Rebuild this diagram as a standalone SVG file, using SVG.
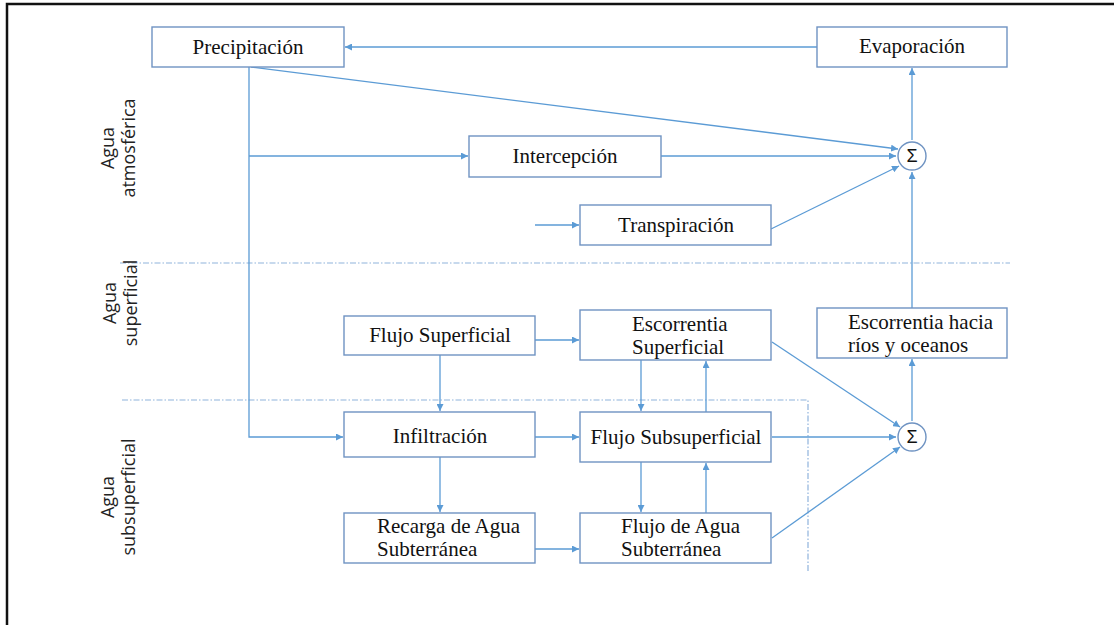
<svg xmlns="http://www.w3.org/2000/svg" width="1114" height="625" viewBox="0 0 1114 625">
<style>
.box{fill:#fff;stroke:#6f93c2;stroke-width:1.4}
.t{font-family:"Liberation Serif","Times New Roman",serif;font-size:21px;fill:#111}
.c{text-anchor:middle}
.lbl{font-family:"Open Sans","Liberation Sans",sans-serif;font-size:18px;fill:#222;text-anchor:middle}
.ln{fill:none;stroke:#5b9bd5;stroke-width:1.3}
.dd{fill:none;stroke:#8fb3dc;stroke-width:1.2;stroke-dasharray:6 2 1.5 2}
.sig{fill:#fff;stroke:#6f93c2;stroke-width:1.4}
.st{font-family:"Liberation Sans",Arial,sans-serif;font-size:18px;fill:#111;text-anchor:middle}
</style>
<defs>
<marker id="a" viewBox="0 0 10 10" refX="10" refY="5" markerWidth="7" markerHeight="7" markerUnits="userSpaceOnUse" orient="auto">
<path d="M0,0 L10,5 L0,10 z" fill="#5b9bd5"/>
</marker>
</defs>
<rect x="0" y="0" width="1114" height="625" fill="#fff"/>
<rect x="7" y="4" width="1130" height="640" fill="none" stroke="#111" stroke-width="2.5"/>

<g id="zones">
<path class="dd" d="M120,263 H1010"/>
<path class="dd" d="M122,400 H808 V573"/>
<text class="lbl" transform="rotate(-90 114 148)" x="114" y="148">Agua</text>
<text class="lbl" transform="rotate(-90 135 148)" x="135" y="148">atmosférica</text>
<text class="lbl" transform="rotate(-90 116 303)" x="116" y="303">Agua</text>
<text class="lbl" transform="rotate(-90 137 303)" x="137" y="303">superficial</text>
<text class="lbl" transform="rotate(-90 114 497)" x="114" y="497">Agua</text>
<text class="lbl" transform="rotate(-90 135 497)" x="135" y="497">subsuperficial</text>
</g>

<g id="connectors">
<path class="ln" d="M817,47 H345" marker-end="url(#a)"/>
<path class="ln" d="M251,67 L898,149" marker-end="url(#a)"/>
<path class="ln" d="M249,67 V437 H343" marker-end="url(#a)"/>
<path class="ln" d="M249,156 H468" marker-end="url(#a)"/>
<path class="ln" d="M661,156 H896" marker-end="url(#a)"/>
<path class="ln" d="M535,225 H579" marker-end="url(#a)"/>
<path class="ln" d="M771,229 L899,166" marker-end="url(#a)"/>
<path class="ln" d="M912,140 V68" marker-end="url(#a)"/>
<path class="ln" d="M912,308 V172" marker-end="url(#a)"/>
<path class="ln" d="M535,340 H579" marker-end="url(#a)"/>
<path class="ln" d="M440,355 V411" marker-end="url(#a)"/>
<path class="ln" d="M641,360 V411" marker-end="url(#a)"/>
<path class="ln" d="M706,412 V361" marker-end="url(#a)"/>
<path class="ln" d="M772,342 L900,427" marker-end="url(#a)"/>
<path class="ln" d="M535,437 H579" marker-end="url(#a)"/>
<path class="ln" d="M772,437 H896" marker-end="url(#a)"/>
<path class="ln" d="M912,421 V359" marker-end="url(#a)"/>
<path class="ln" d="M440,457 V512" marker-end="url(#a)"/>
<path class="ln" d="M535,549 H579" marker-end="url(#a)"/>
<path class="ln" d="M641,462 V512" marker-end="url(#a)"/>
<path class="ln" d="M706,513 V463" marker-end="url(#a)"/>
<path class="ln" d="M772,538 L900,447" marker-end="url(#a)"/>
</g>

<g id="precipitacion"><rect class="box" x="152" y="27" width="192" height="40"/><text class="t c" x="248" y="54">Precipitación</text></g>
<g id="evaporacion"><rect class="box" x="817" y="27" width="190" height="40"/><text class="t c" x="912" y="53">Evaporación</text></g>
<g id="intercepcion"><rect class="box" x="469" y="136" width="192" height="41"/><text class="t c" x="565" y="163">Intercepción</text></g>
<g id="transpiracion"><rect class="box" x="580" y="205" width="191" height="40"/><text class="t c" x="676" y="232">Transpiración</text></g>
<g id="sigma1"><circle class="sig" cx="912" cy="156" r="14"/><text class="st" x="912" y="162">Σ</text></g>
<g id="flujo-superficial"><rect class="box" x="344" y="316" width="191" height="39"/><text class="t c" x="440" y="342">Flujo Superficial</text></g>
<g id="escorrentia-superficial"><rect class="box" x="580" y="310" width="191" height="50"/><text class="t" x="632" y="331">Escorrentia</text><text class="t" x="632" y="354">Superficial</text></g>
<g id="escorrentia-rios"><rect class="box" x="817" y="308" width="190" height="50"/><text class="t" x="848" y="329">Escorrentia hacia</text><text class="t" x="848" y="352">ríos y oceanos</text></g>
<g id="infiltracion"><rect class="box" x="344" y="412" width="191" height="45"/><text class="t c" x="440" y="443">Infiltración</text></g>
<g id="flujo-subsuperficial"><rect class="box" x="580" y="412" width="191" height="50"/><text class="t c" x="676" y="444">Flujo Subsuperficial</text></g>
<g id="sigma2"><circle class="sig" cx="912" cy="437" r="14"/><text class="st" x="912" y="443">Σ</text></g>
<g id="recarga"><rect class="box" x="344" y="513" width="191" height="50"/><text class="t" x="377" y="533">Recarga de Agua</text><text class="t" x="377" y="556">Subterránea</text></g>
<g id="flujo-agua-sub"><rect class="box" x="580" y="513" width="191" height="50"/><text class="t" x="621" y="533">Flujo de Agua</text><text class="t" x="621" y="556">Subterránea</text></g>
</svg>
